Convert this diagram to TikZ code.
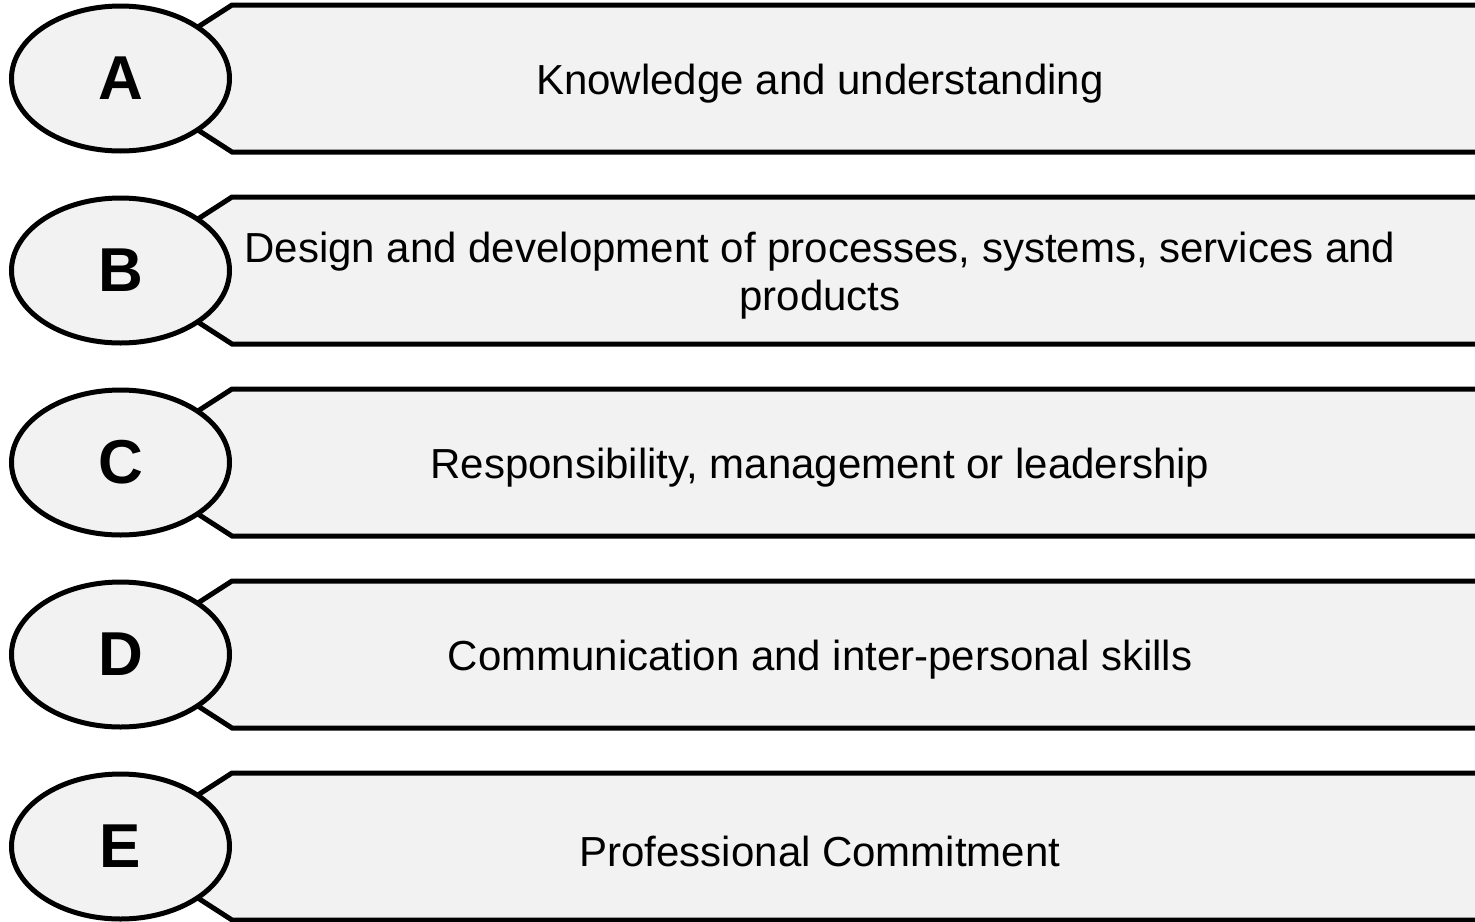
\documentclass[tikz,border=0pt]{standalone}
\usepackage{fontspec}
\setmainfont{Liberation Sans}
\usetikzlibrary{shapes.geometric}
\definecolor{boxfill}{HTML}{F2F2F2}
\tikzset{
  x=1pt, y=-1pt,
  banner/.style={draw=black, line width=5pt, fill=boxfill, line join=miter},
  badge/.style={ellipse, draw=black, line width=5pt, fill=boxfill, minimum width=218pt, minimum height=145pt, inner sep=0pt, font=\fontsize{62}{62}\selectfont\bfseries},
  label/.style={align=center, font=\fontsize{42}{48}\selectfont, inner sep=0pt}
}
\begin{document}
\begin{tikzpicture}
\useasboundingbox (0,0) rectangle (1475,921);
\clip (0,0) rectangle (1475,921);
\foreach \c/\L/\T [count=\i] in {
  78.5/A/{Knowledge and understanding},
  270.5/B/{Design and development of processes, systems, services and\\products},
  462.5/C/{Responsibility, management or leadership},
  654.5/D/{Communication and inter-personal skills},
  846.5/E/{Professional Commitment}} {
  \coordinate (tl\i) at (232,\c-73.5);
  \coordinate (tr\i) at (1500,\c-73.5);
  \coordinate (br\i) at (1500,\c+73.5);
  \coordinate (bl\i) at (232,\c+73.5);
  \coordinate (tip\i) at (118,\c);
  \path[banner] (tl\i) -- (tr\i) -- (br\i) -- (bl\i) -- (tip\i) -- cycle;
  \node[label] (text\i) at (820,\c+5) {\T};
  \node[badge] (badge\i) at (120.5,\c) {\L};
}
\end{tikzpicture}
\end{document}
